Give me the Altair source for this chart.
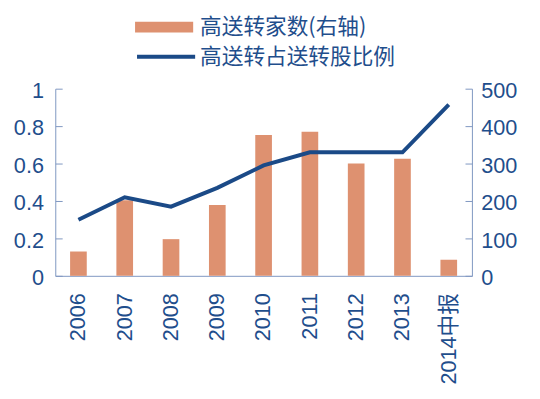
import altair as alt
import pandas as pd

categories = ["2006", "2007", "2008", "2009", "2010", "2011", "2012", "2013", "2014中报"]
counts = [65, 202, 98, 189, 376, 385, 300, 313, 43]
ratios = [0.30, 0.42, 0.37, 0.47, 0.59, 0.66, 0.66, 0.66, 0.915]
left_ticks = [0, 0.2, 0.4, 0.6, 0.8, 1]
right_ticks = [0, 100, 200, 300, 400, 500]
bar_label = "高送转家数(右轴)"
line_label = "高送转占送转股比例"

df = pd.DataFrame({"year": categories, "count": counts, "ratio": ratios})

TEXT = "#1F4E8C"
DOMAIN = "#7F97C1"
BAR = "#DE9170"
LINE = "#1B4A87"
NUM_FONT = "Liberation Sans"
CJK_FONT = "Noto Sans CJK SC"

x_enc = alt.X(
    "year:N",
    sort=categories,
    scale=alt.Scale(paddingInner=0.64, paddingOuter=0.32),
    axis=alt.Axis(
        title=None, labelAngle=-90, labelFontSize=22, labelColor=TEXT,
        labelFont=NUM_FONT + ", " + CJK_FONT, ticks=False, domainColor=DOMAIN,
        labelPadding=17, labelLimit=200,
    ),
)

base = alt.Chart(df).transform_calculate(bs=f"'{bar_label}'", ls=f"'{line_label}'")

bars = base.mark_bar().encode(
    x=x_enc,
    y=alt.Y(
        "count:Q",
        scale=alt.Scale(domain=[0, 500], nice=False),
        axis=alt.Axis(
            orient="right", values=right_ticks, title=None, grid=False,
            labelFontSize=22, labelColor=TEXT, labelFont=NUM_FONT,
            ticks=False, domainColor=DOMAIN, labelPadding=9, labelOffset=2,
        ),
    ),
    fill=alt.Fill(
        "bs:N",
        scale=alt.Scale(domain=[bar_label], range=[BAR]),
        legend=alt.Legend(
            orient="none", legendX=81, legendY=-92, title=None,
            symbolType="M-1,-0.186H1V0.186H-1Z", symbolSize=3481,
            symbolStrokeWidth=0, symbolOpacity=1,
            labelFontSize=22, labelColor=TEXT, labelFont=CJK_FONT,
            labelLimit=400, labelOffset=7,
        ),
    ),
)

line = base.mark_line(strokeWidth=4).encode(
    x=x_enc,
    y=alt.Y(
        "ratio:Q",
        scale=alt.Scale(domain=[0, 1], nice=False),
        axis=alt.Axis(
            orient="left", values=left_ticks, format="~g", title=None, grid=False,
            labelFontSize=22, labelColor=TEXT, labelFont=NUM_FONT,
            ticks=False, domainColor=DOMAIN, labelPadding=12, labelOffset=2,
        ),
    ),
    stroke=alt.Stroke(
        "ls:N",
        scale=alt.Scale(domain=[line_label], range=[LINE]),
        legend=alt.Legend(
            orient="none", legendX=81, legendY=-64, title=None,
            symbolType="stroke", symbolSize=3481, symbolStrokeWidth=4,
            labelFontSize=22, labelColor=TEXT, labelFont=CJK_FONT,
            labelLimit=400, labelOffset=3,
        ),
    ),
)

tick_left = alt.Chart(df).mark_point(opacity=0).encode(
    x=x_enc,
    y=alt.Y(
        "ratio:Q",
        scale=alt.Scale(domain=[0, 1], nice=False),
        axis=alt.Axis(
            orient="left", offset=-7, values=left_ticks, labels=False, domain=False,
            tickSize=7, tickColor=DOMAIN, title=None, grid=False,
        ),
    ),
)

tick_right = alt.Chart(df).mark_point(opacity=0).encode(
    x=x_enc,
    y=alt.Y(
        "count:Q",
        scale=alt.Scale(domain=[0, 500], nice=False),
        axis=alt.Axis(
            orient="right", offset=-7, values=right_ticks, labels=False, domain=False,
            tickSize=7, tickColor=DOMAIN, title=None, grid=False,
        ),
    ),
)

chart = (
    alt.layer(bars, line, tick_left, tick_right)
    .resolve_scale(y="independent")
    .properties(
        width=423, height=190,
        padding={"left": 48, "top": 79, "right": 61, "bottom": 114},
        autosize=alt.AutoSizeParams(type="none"),
    )
    .configure_view(stroke=None)
)

chart.save("out.html", embed_options={"renderer": "svg", "actions": False})
